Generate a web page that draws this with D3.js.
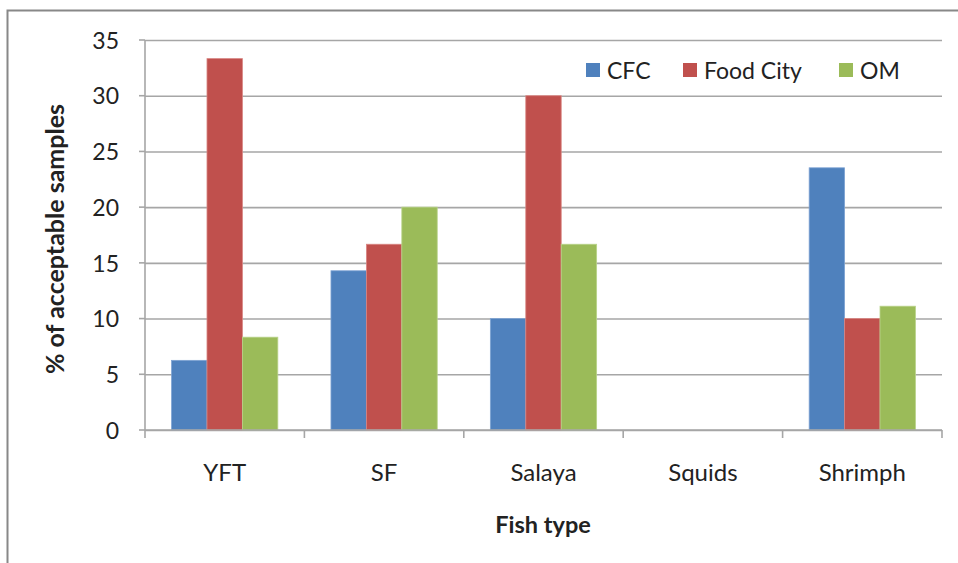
<!DOCTYPE html>
<html><head><meta charset="utf-8">
<script src="https://cdn.jsdelivr.net/npm/d3@7"></script>
<style>body{margin:0;background:#fff}svg{display:block}text{font-family:Lato,"Open Sans",sans-serif;fill:#222}</style>
</head><body><svg id="c" width="958" height="563"></svg>
<script>
const categories = ["YFT","SF","Salaya","Squids","Shrimph"];
const seriesNames = ["CFC","Food City","OM"];
const cfc = [6.25, 14.29, 10, 0, 23.53];
const foodCity = [33.33, 16.67, 30, 0, 10];
const om = [8.33, 20, 16.67, 0, 11.11];
const yTicks = [0,5,10,15,20,25,30,35];
const colors = ["#4F81BD","#C0504D","#9BBB59"];
const strokes = ["#7ea3d3","#d98683","#b9d389"];

const series = [cfc, foodCity, om];
const svg = d3.select("#c");
// frame
svg.append("path").attr("d","M7.5,563 V10.5 H958").attr("fill","none").attr("stroke","#888").attr("stroke-width",2);

const x0 = 145, x1 = 942, yTop = 40, yBot = 430;
const x = d3.scaleBand().domain(categories).range([x0,x1]).paddingInner(0).paddingOuter(0);
const gap = x.bandwidth()/(3+1.5)*1.5;
const xs = d3.scaleBand().domain(seriesNames).range([gap/2, x.bandwidth()-gap/2]).padding(0);
const y = d3.scaleLinear().domain([0,35]).range([yBot,yTop]);

// gridlines
const gy = svg.append("g").attr("transform",`translate(${x0},0)`)
  .call(d3.axisLeft(y).tickValues(yTicks).tickSize(-(x1-x0)).tickSizeOuter(0).tickPadding(26));
gy.select(".domain").remove();
gy.selectAll(".tick line").attr("stroke","#a6a6a6").attr("stroke-width",1.6);
gy.selectAll(".tick text").attr("font-size",23).attr("fill","#222").attr("dy","0.36em");
// y left tick marks
svg.append("g").selectAll("line").data(yTicks).join("line")
  .attr("x1",x0-6).attr("x2",x0).attr("y1",d=>y(d)).attr("y2",d=>y(d)).attr("stroke","#a6a6a6").attr("stroke-width",1.6);
svg.append("line").attr("x1",x0).attr("x2",x0).attr("y1",yTop).attr("y2",yBot).attr("stroke","#a6a6a6").attr("stroke-width",1.6);

// bars
const g = svg.append("g");
categories.forEach((c,i)=>{
  series.forEach((s,j)=>{
    if(s[i] <= 0) return;
    g.append("rect").attr("x",x(c)+xs(seriesNames[j])).attr("y",y(s[i]))
      .attr("width",xs.bandwidth()).attr("height",yBot-y(s[i]))
      .attr("fill",colors[j]).attr("stroke",strokes[j]).attr("stroke-width",0.8);
  });
});

// x axis
const gx = svg.append("g").attr("transform",`translate(0,${yBot})`)
  .call(d3.axisBottom(x).tickSize(0).tickPadding(34));
gx.select(".domain").remove();
gx.selectAll(".tick text").attr("font-size",24).attr("fill","#222");
svg.append("line").attr("x1",x0).attr("x2",x1).attr("y1",yBot).attr("y2",yBot).attr("stroke","#a6a6a6").attr("stroke-width",1.6);
const bounds = categories.map(c=>x(c)).concat([x1]);
svg.append("g").selectAll("line").data(bounds).join("line")
  .attr("x1",d=>d).attr("x2",d=>d).attr("y1",yBot).attr("y2",yBot+8).attr("stroke","#a6a6a6").attr("stroke-width",1.6);

// axis titles
svg.append("text").attr("transform","translate(64,239) rotate(-90)").attr("text-anchor","middle")
  .attr("font-size",25).attr("font-weight","bold").text("% of acceptable samples");
svg.append("text").attr("x",543).attr("y",533).attr("text-anchor","middle")
  .attr("font-size",23.5).attr("font-weight","bold").text("Fish type");

// legend
const legX = [586, 683, 839];
const lg = svg.append("g");
seriesNames.forEach((n,j)=>{
  lg.append("rect").attr("x",legX[j]).attr("y",63).attr("width",14).attr("height",14).attr("fill",colors[j]);
  lg.append("text").attr("x",legX[j]+21).attr("y",79).attr("font-size",23).text(n);
});
</script></body></html>
